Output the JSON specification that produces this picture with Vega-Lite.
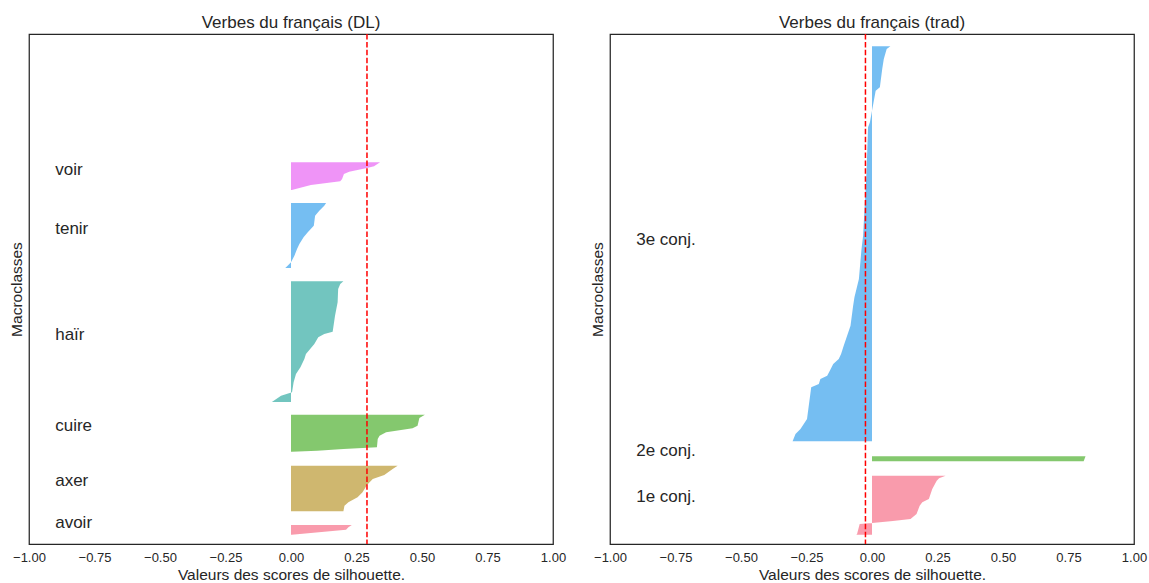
{
  "$schema": "https://vega.github.io/schema/vega-lite/v6.json",
  "background": "white",
  "padding": {"left": 8, "top": 13, "right": 5, "bottom": 5},
  "bounds": "flush",
  "spacing": 57,
  "datasets": {
    "silhouette": [
      {"panel": "DL", "classe": "avoir", "y": 9.3, "s": 0.003},
      {"panel": "DL", "classe": "avoir", "y": 14.3, "s": 0.21},
      {"panel": "DL", "classe": "avoir", "y": 16.7, "s": 0.219},
      {"panel": "DL", "classe": "avoir", "y": 19, "s": 0.232},
      {"panel": "DL", "classe": "axer", "y": 32.7, "s": 0.2},
      {"panel": "DL", "classe": "axer", "y": 38.3, "s": 0.204},
      {"panel": "DL", "classe": "axer", "y": 41.7, "s": 0.219},
      {"panel": "DL", "classe": "axer", "y": 46.7, "s": 0.254},
      {"panel": "DL", "classe": "axer", "y": 51.7, "s": 0.273},
      {"panel": "DL", "classe": "axer", "y": 59, "s": 0.29},
      {"panel": "DL", "classe": "axer", "y": 65, "s": 0.312},
      {"panel": "DL", "classe": "axer", "y": 69, "s": 0.356},
      {"panel": "DL", "classe": "axer", "y": 75, "s": 0.388},
      {"panel": "DL", "classe": "axer", "y": 78.3, "s": 0.407},
      {"panel": "DL", "classe": "cuire", "y": 92.3, "s": 0.003},
      {"panel": "DL", "classe": "cuire", "y": 93.3, "s": 0.1},
      {"panel": "DL", "classe": "cuire", "y": 95, "s": 0.2},
      {"panel": "DL", "classe": "cuire", "y": 96.7, "s": 0.328},
      {"panel": "DL", "classe": "cuire", "y": 105, "s": 0.331},
      {"panel": "DL", "classe": "cuire", "y": 108.3, "s": 0.338},
      {"panel": "DL", "classe": "cuire", "y": 111.7, "s": 0.363},
      {"panel": "DL", "classe": "cuire", "y": 114, "s": 0.42},
      {"panel": "DL", "classe": "cuire", "y": 115.7, "s": 0.464},
      {"panel": "DL", "classe": "cuire", "y": 118.3, "s": 0.483},
      {"panel": "DL", "classe": "cuire", "y": 126, "s": 0.49},
      {"panel": "DL", "classe": "cuire", "y": 129.3, "s": 0.511},
      {"panel": "DL", "classe": "haïr", "y": 142, "s": -0.073},
      {"panel": "DL", "classe": "haïr", "y": 148.3, "s": -0.038},
      {"panel": "DL", "classe": "haïr", "y": 151.7, "s": 0.004},
      {"panel": "DL", "classe": "haïr", "y": 161.7, "s": 0.01},
      {"panel": "DL", "classe": "haïr", "y": 170, "s": 0.019},
      {"panel": "DL", "classe": "haïr", "y": 176.7, "s": 0.036},
      {"panel": "DL", "classe": "haïr", "y": 185, "s": 0.051},
      {"panel": "DL", "classe": "haïr", "y": 190, "s": 0.057},
      {"panel": "DL", "classe": "haïr", "y": 200, "s": 0.089},
      {"panel": "DL", "classe": "haïr", "y": 206.7, "s": 0.104},
      {"panel": "DL", "classe": "haïr", "y": 210, "s": 0.127},
      {"panel": "DL", "classe": "haïr", "y": 212.3, "s": 0.159},
      {"panel": "DL", "classe": "haïr", "y": 228.3, "s": 0.168},
      {"panel": "DL", "classe": "haïr", "y": 241.7, "s": 0.178},
      {"panel": "DL", "classe": "haïr", "y": 255, "s": 0.18},
      {"panel": "DL", "classe": "haïr", "y": 260, "s": 0.188},
      {"panel": "DL", "classe": "haïr", "y": 262.7, "s": 0.2},
      {"panel": "DL", "classe": "tenir", "y": 276, "s": -0.022},
      {"panel": "DL", "classe": "tenir", "y": 278.3, "s": -0.013},
      {"panel": "DL", "classe": "tenir", "y": 281.7, "s": 0.0},
      {"panel": "DL", "classe": "tenir", "y": 288.3, "s": 0.013},
      {"panel": "DL", "classe": "tenir", "y": 295, "s": 0.023},
      {"panel": "DL", "classe": "tenir", "y": 300, "s": 0.032},
      {"panel": "DL", "classe": "tenir", "y": 306.7, "s": 0.048},
      {"panel": "DL", "classe": "tenir", "y": 311.7, "s": 0.064},
      {"panel": "DL", "classe": "tenir", "y": 318.3, "s": 0.087},
      {"panel": "DL", "classe": "tenir", "y": 328.3, "s": 0.092},
      {"panel": "DL", "classe": "tenir", "y": 333.3, "s": 0.108},
      {"panel": "DL", "classe": "tenir", "y": 338.3, "s": 0.127},
      {"panel": "DL", "classe": "tenir", "y": 341, "s": 0.134},
      {"panel": "DL", "classe": "voir", "y": 354, "s": 0.003},
      {"panel": "DL", "classe": "voir", "y": 359, "s": 0.076},
      {"panel": "DL", "classe": "voir", "y": 362.7, "s": 0.188},
      {"panel": "DL", "classe": "voir", "y": 365, "s": 0.195},
      {"panel": "DL", "classe": "voir", "y": 370, "s": 0.202},
      {"panel": "DL", "classe": "voir", "y": 372.3, "s": 0.222},
      {"panel": "DL", "classe": "voir", "y": 376, "s": 0.29},
      {"panel": "DL", "classe": "voir", "y": 377.7, "s": 0.317},
      {"panel": "DL", "classe": "voir", "y": 381.7, "s": 0.34},
      {"panel": "trad", "classe": "1e conj.", "y": 9.3, "s": -0.06},
      {"panel": "trad", "classe": "1e conj.", "y": 10, "s": -0.057},
      {"panel": "trad", "classe": "1e conj.", "y": 20, "s": -0.047},
      {"panel": "trad", "classe": "1e conj.", "y": 21, "s": 0.0},
      {"panel": "trad", "classe": "1e conj.", "y": 23, "s": 0.08},
      {"panel": "trad", "classe": "1e conj.", "y": 25, "s": 0.147},
      {"panel": "trad", "classe": "1e conj.", "y": 30, "s": 0.17},
      {"panel": "trad", "classe": "1e conj.", "y": 38.3, "s": 0.182},
      {"panel": "trad", "classe": "1e conj.", "y": 41.7, "s": 0.192},
      {"panel": "trad", "classe": "1e conj.", "y": 45, "s": 0.217},
      {"panel": "trad", "classe": "1e conj.", "y": 55, "s": 0.23},
      {"panel": "trad", "classe": "1e conj.", "y": 63.3, "s": 0.247},
      {"panel": "trad", "classe": "1e conj.", "y": 65.7, "s": 0.256},
      {"panel": "trad", "classe": "1e conj.", "y": 68.3, "s": 0.281},
      {"panel": "trad", "classe": "2e conj.", "y": 82.7, "s": 0.808},
      {"panel": "trad", "classe": "2e conj.", "y": 87.7, "s": 0.815},
      {"panel": "trad", "classe": "3e conj.", "y": 102.7, "s": -0.303},
      {"panel": "trad", "classe": "3e conj.", "y": 110, "s": -0.292},
      {"panel": "trad", "classe": "3e conj.", "y": 115, "s": -0.273},
      {"panel": "trad", "classe": "3e conj.", "y": 125, "s": -0.248},
      {"panel": "trad", "classe": "3e conj.", "y": 156.7, "s": -0.232},
      {"panel": "trad", "classe": "3e conj.", "y": 160, "s": -0.203},
      {"panel": "trad", "classe": "3e conj.", "y": 165, "s": -0.197},
      {"panel": "trad", "classe": "3e conj.", "y": 168.3, "s": -0.171},
      {"panel": "trad", "classe": "3e conj.", "y": 173.3, "s": -0.161},
      {"panel": "trad", "classe": "3e conj.", "y": 180, "s": -0.148},
      {"panel": "trad", "classe": "3e conj.", "y": 185, "s": -0.127},
      {"panel": "trad", "classe": "3e conj.", "y": 190, "s": -0.118},
      {"panel": "trad", "classe": "3e conj.", "y": 198.3, "s": -0.108},
      {"panel": "trad", "classe": "3e conj.", "y": 208.3, "s": -0.095},
      {"panel": "trad", "classe": "3e conj.", "y": 218.3, "s": -0.082},
      {"panel": "trad", "classe": "3e conj.", "y": 238.3, "s": -0.072},
      {"panel": "trad", "classe": "3e conj.", "y": 246.7, "s": -0.067},
      {"panel": "trad", "classe": "3e conj.", "y": 265, "s": -0.05},
      {"panel": "trad", "classe": "3e conj.", "y": 295, "s": -0.04},
      {"panel": "trad", "classe": "3e conj.", "y": 308.3, "s": -0.034},
      {"panel": "trad", "classe": "3e conj.", "y": 371.7, "s": -0.021},
      {"panel": "trad", "classe": "3e conj.", "y": 416.7, "s": -0.015},
      {"panel": "trad", "classe": "3e conj.", "y": 421.7, "s": -0.008},
      {"panel": "trad", "classe": "3e conj.", "y": 453.3, "s": 0.014},
      {"panel": "trad", "classe": "3e conj.", "y": 456.7, "s": 0.03},
      {"panel": "trad", "classe": "3e conj.", "y": 475, "s": 0.039},
      {"panel": "trad", "classe": "3e conj.", "y": 485, "s": 0.045},
      {"panel": "trad", "classe": "3e conj.", "y": 495, "s": 0.056},
      {"panel": "trad", "classe": "3e conj.", "y": 497.7, "s": 0.07}
    ],
    "moyenne": [
      {"panel": "DL", "s": 0.29},
      {"panel": "trad", "s": -0.025}
    ],
    "etiquettes": [
      {"panel": "DL", "classe": "avoir", "y": 16},
      {"panel": "DL", "classe": "axer", "y": 58},
      {"panel": "DL", "classe": "cuire", "y": 113},
      {"panel": "DL", "classe": "haïr", "y": 204},
      {"panel": "DL", "classe": "tenir", "y": 310},
      {"panel": "DL", "classe": "voir", "y": 369},
      {"panel": "trad", "classe": "1e conj.", "y": 42},
      {"panel": "trad", "classe": "2e conj.", "y": 88},
      {"panel": "trad", "classe": "3e conj.", "y": 299}
    ]
  },
  "hconcat": [
    {
      "width": 524,
      "height": 510,
      "title": {"text": "Verbes du français (DL)"},
      "layer": [
        {
          "data": {"name": "silhouette"},
          "transform": [{"filter": "datum.panel === 'DL'"}],
          "mark": {"type": "area", "orient": "horizontal", "fillOpacity": 0.7},
          "encoding": {
            "y": {"field": "y", "type": "quantitative", "scale": {"domain": [0, 510], "nice": false, "zero": false}, "axis": {"title": "Macroclasses", "labels": false, "titlePadding": 5}},
            "x": {"field": "s", "type": "quantitative", "stack": null, "scale": {"domain": [-1, 1], "nice": false}, "axis": {"title": "Valeurs des scores de silhouette.", "values": [-1, -0.75, -0.5, -0.25, 0, 0.25, 0.5, 0.75, 1], "format": ".2f"}},
            "color": {"field": "classe", "type": "nominal", "legend": null, "scale": {"domain": ["avoir", "axer", "cuire", "haïr", "tenir", "voir"], "range": ["#f77189", "#bb9832", "#50b131", "#36ada4", "#3ba3ec", "#e866f4"]}}
          }
        },
        {
          "data": {"name": "moyenne"},
          "transform": [{"filter": "datum.panel === 'DL'"}],
          "mark": {"type": "rule", "color": "#ff0000", "strokeWidth": 1.5, "strokeDash": [5.5, 2.4]},
          "encoding": {"x": {"field": "s", "type": "quantitative"}}
        },
        {
          "data": {"name": "etiquettes"},
          "transform": [{"filter": "datum.panel === 'DL'"}],
          "mark": {"type": "text", "align": "left", "baseline": "alphabetic", "fontSize": 17, "color": "#262626"},
          "encoding": {
            "x": {"datum": -0.9, "type": "quantitative"},
            "y": {"field": "y", "type": "quantitative"},
            "text": {"field": "classe"}
          }
        }
      ]
    },
    {
      "width": 524,
      "height": 510,
      "title": {"text": "Verbes du français (trad)"},
      "layer": [
        {
          "data": {"name": "silhouette"},
          "transform": [{"filter": "datum.panel === 'trad'"}],
          "mark": {"type": "area", "orient": "horizontal", "fillOpacity": 0.7},
          "encoding": {
            "y": {"field": "y", "type": "quantitative", "scale": {"domain": [0, 510], "nice": false, "zero": false}, "axis": {"title": "Macroclasses", "labels": false, "titlePadding": 5}},
            "x": {"field": "s", "type": "quantitative", "stack": null, "scale": {"domain": [-1, 1], "nice": false}, "axis": {"title": "Valeurs des scores de silhouette.", "values": [-1, -0.75, -0.5, -0.25, 0, 0.25, 0.5, 0.75, 1], "format": ".2f"}},
            "color": {"field": "classe", "type": "nominal", "legend": null, "scale": {"domain": ["1e conj.", "2e conj.", "3e conj."], "range": ["#f77189", "#50b131", "#3ba3ec"]}}
          }
        },
        {
          "data": {"name": "moyenne"},
          "transform": [{"filter": "datum.panel === 'trad'"}],
          "mark": {"type": "rule", "color": "#ff0000", "strokeWidth": 1.5, "strokeDash": [5.5, 2.4]},
          "encoding": {"x": {"field": "s", "type": "quantitative"}}
        },
        {
          "data": {"name": "etiquettes"},
          "transform": [{"filter": "datum.panel === 'trad'"}],
          "mark": {"type": "text", "align": "left", "baseline": "alphabetic", "fontSize": 17, "color": "#262626"},
          "encoding": {
            "x": {"datum": -0.9, "type": "quantitative"},
            "y": {"field": "y", "type": "quantitative"},
            "text": {"field": "classe"}
          }
        }
      ]
    }
  ],
  "resolve": {"scale": {"color": "independent", "x": "independent", "y": "independent"}},
  "config": {
    "font": "Liberation Sans",
    "view": {"stroke": "#262626", "strokeWidth": 1.25},
    "axis": {
      "grid": false,
      "domain": false,
      "ticks": false,
      "tickSize": 0,
      "labelFontSize": 13,
      "labelColor": "#262626",
      "labelPadding": 7,
      "labelFlush": false,
      "labelOverlap": false,
      "titleFontSize": 15.5,
      "titleFontWeight": "normal",
      "titleColor": "#262626",
      "titlePadding": 3
    },
    "title": {"fontSize": 17, "fontWeight": "normal", "color": "#262626", "offset": 1, "baseline": "alphabetic", "anchor": "middle"}
  }
}
